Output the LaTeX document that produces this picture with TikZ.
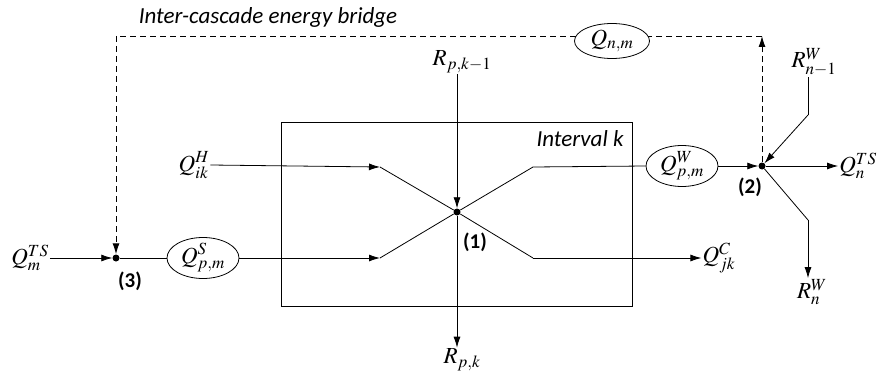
\documentclass[tikz,border=0pt]{standalone}
\usepackage{mathptmx}
\usepackage{fontspec}
\newfontfamily\calfont{Carlito}
\usetikzlibrary{arrows.meta,shapes.geometric}
\begin{document}
\begin{tikzpicture}[x=1pt,y=-1pt,
 line/.style={draw=black, line width=0.8pt},
 arr/.style={line, -{Latex[length=11pt,width=7pt]}},
 dashline/.style={line, line width=0.9pt, dash pattern=on 6pt off 4pt},
 dot/.style={circle, fill=black, inner sep=0pt, minimum size=7pt},
 oval/.style={ellipse, draw, line width=0.8pt, minimum width=72pt, minimum height=41pt, inner sep=0pt, font=\fontsize{23}{25}\selectfont},
 lab/.style={font=\fontsize{23}{25}\selectfont, inner sep=1pt},
 tag/.style={font=\calfont\bfseries\fontsize{21}{24}\selectfont},
 ttl/.style={font=\calfont\itshape\fontsize{23}{26}\selectfont}]
\useasboundingbox (0,0) rectangle (883,377);
\node[draw, line width=0.8pt, minimum width=351pt, minimum height=184pt, inner sep=0pt] (box) at (456.5,214) {};
\node[dot] (n1) at (457,212) {};
\node[dot] (n2) at (762,166) {};
\node[dot] (n3) at (116,258) {};
\node[oval] (qs) at (203,258) {$Q^{S}_{p,m}$};
\node[oval] (qw) at (682,166) {$Q^{W}_{p,m}$};
\node[oval, minimum width=75pt, minimum height=35pt] (qnm) at (612,41) {$Q_{n,m}$};
\node[lab] (qts) at (30,258) {$Q^{TS}_{m}$};
\node[lab] (qh) at (194,165) {$Q^{H}_{ik}$};
\node[lab] (rk1) at (462,62) {$R_{p,k-1}$};
\node[lab] (rk) at (462,360) {$R_{p,k}$};
\node[lab] (qc) at (719,258) {$Q^{C}_{jk}$};
\node[lab] (qnts) at (858,166) {$Q^{TS}_{n}$};
\node[lab] (rn1) at (814,62) {$R^{W}_{n-1}$};
\node[lab] (rn) at (812,292) {$R^{W}_{n}$};
\node[tag] (t1) at (475,242) {(1)};
\node[tag] (t2) at (750,187) {(2)};
\node[tag] (t3) at (130,281) {(3)};
\node[ttl] (title) at (268,17) {Inter-cascade energy bridge};
\node[ttl] (ik) at (580,139) {Interval k};
\coordinate (a1) at (380,167);
\coordinate (a2) at (380,258);
\coordinate (b1) at (533,167);
\coordinate (b2) at (533,258);
\coordinate (c1) at (116,36);
\coordinate (c2) at (762,36);
\coordinate (d1) at (808,115);
\coordinate (d2) at (808,220);
% left side
\draw[arr] (qts.east) -- (n3);
\draw[line] (n3) -- (qs.west);
\draw[arr] (qs.east) -- (a2);
\draw[line] (a2) -- (n1);
\draw[arr] (qh.east) -- (a1);
\draw[line] (a1) -- (n1);
% vertical
\draw[arr] (rk1.south -| n1) -- (n1);
\draw[arr] (n1) -- (n1 |- rk.north);
% right of n1
\draw[line] (n1) -- (b1) -- (qw.west);
\draw[arr] (qw.east) -- (n2);
\draw[line] (n1) -- (b2);
\draw[arr] (b2) -- (qc.west);
% node 2
\draw[arr] (n2) -- (qnts.west);
\draw[line] (rn1.south -| d1) -- (d1);
\draw[arr] (d1) -- (n2);
\draw[line] (n2) -- (d2);
\draw[arr] (d2) -- (rn.north -| d2);
% dashed bridge
\draw[dashline, -{Latex[length=11pt,width=7pt]}] (n2) -- (c2);
\draw[dashline] (c2) -- (qnm.8 |- c2);
\draw[dashline] (qnm.172 |- c1) -- (c1);
\draw[dashline, -{Latex[length=11pt,width=7pt]}] (c1) -- (n3);
\end{tikzpicture}
\end{document}
